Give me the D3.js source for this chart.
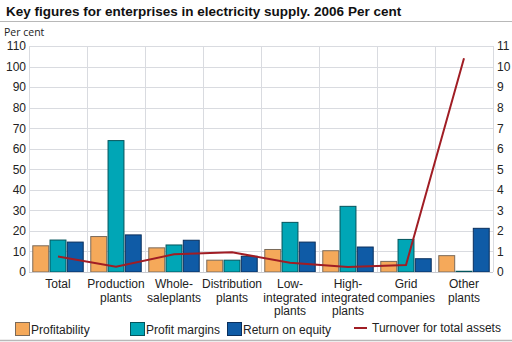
<!DOCTYPE html>
<html>
<head>
<meta charset="utf-8">
<script src="https://cdn.jsdelivr.net/npm/d3@7"></script>
<style>
  html, body { margin: 0; padding: 0; background: #fff; }
  svg { display: block; font-family: "Liberation Sans", Arial, sans-serif; }
</style>
</head>
<body>
<svg id="chart" width="512" height="342"></svg>
<script>
// Category labels (each inner array is one line of text)
const categories = [
  ["Total"],
  ["Production", "plants"],
  ["Whole-", "saleplants"],
  ["Distribution", "plants"],
  ["Low-", "integrated", "plants"],
  ["High-", "integrated", "plants"],
  ["Grid", "companies"],
  ["Other", "plants"]
];

// Bar series, per cent (left axis)
const profitability  = [13, 17.5, 12, 6, 11.2, 10.6, 5.4, 8.2];
const profitMargins  = [15.8, 64.2, 13.4, 6, 24.4, 32.2, 16.1, 0.6];
const returnOnEquity = [14.8, 18.3, 15.7, 7.9, 14.8, 12.4, 6.7, 21.5];

// Line series, per cent (right axis)
const turnover = [0.75, 0.26, 0.86, 0.96, 0.45, 0.24, 0.34, 10.4];

// Tick values
const leftTicks  = [0, 10, 20, 30, 40, 50, 60, 70, 80, 90, 100, 110];
const rightTicks = [0, 1, 2, 3, 4, 5, 6, 7, 8, 9, 10, 11];

const seriesNames = ["Profitability", "Profit margins", "Return on equity"];
const seriesData = [profitability, profitMargins, returnOnEquity];
const fills   = ["#f5a95a", "#00a6b6", "#0f5ba6"];
const strokes = ["#7a6a5a", "#03545c", "#0a2f5c"];
const lineColor = "#a01d24";

const svg = d3.select("#chart");
const margin = { left: 29, right: 19, top: 46, bottom: 70 };
const W = 512, H = 342;
const x0 = margin.left, x1 = W - margin.right;
const yTop = 46, yBot = 272;

const x = d3.scaleBand().domain(d3.range(categories.length)).range([x0, x1]).paddingInner(0).paddingOuter(0);
const xs = d3.scaleBand().domain(d3.range(3)).range([0, x.bandwidth()]).paddingOuter(0.19).paddingInner(0.02);
const yL = d3.scaleLinear().domain([0, 110]).range([yBot, yTop]);
const yR = d3.scaleLinear().domain([0, 11]).range([yBot, yTop]);

// Title and rule
svg.append("text").attr("x", 6).attr("y", 16)
  .attr("font-size", 13.5).attr("font-weight", "bold").attr("fill", "#111")
  .text("Key figures for enterprises in electricity supply. 2006 Per cent");
svg.append("line").attr("x1", 0).attr("x2", W).attr("y1", 21.5).attr("y2", 21.5)
  .attr("stroke", "#b8b8b8").attr("stroke-width", 1);

svg.append("text").attr("x", 4).attr("y", 36)
  .attr("font-family", "'Open Sans', sans-serif").attr("font-size", 10.5).attr("fill", "#222")
  .text("Per cent");

// Horizontal grid
svg.append("g").selectAll("line").data(leftTicks).join("line")
  .attr("x1", x0).attr("x2", x1)
  .attr("y1", d => Math.round(yL(d)) + 0.5).attr("y2", d => Math.round(yL(d)) + 0.5)
  .attr("stroke", "#d9dbe0").attr("stroke-width", 1);

// Vertical category separators
svg.append("g").selectAll("line").data(d3.range(categories.length + 1)).join("line")
  .attr("x1", i => Math.round(x0 + i * x.bandwidth()) + 0.5)
  .attr("x2", i => Math.round(x0 + i * x.bandwidth()) + 0.5)
  .attr("y1", yTop).attr("y2", yBot)
  .attr("stroke", "#d9dbe0").attr("stroke-width", 1);

// Left axis
const gL = svg.append("g").attr("transform", `translate(${x0 - 3},0)`)
  .call(d3.axisLeft(yL).tickValues(leftTicks).tickSize(0).tickPadding(0));
gL.select(".domain").remove();
gL.selectAll("text").attr("font-size", 12).attr("fill", "#222").attr("font-family", "'Liberation Sans', Arial, sans-serif");

// Right axis
const gR = svg.append("g").attr("transform", `translate(${x1 + 4},0)`)
  .call(d3.axisRight(yR).tickValues(rightTicks).tickSize(0).tickPadding(0));
gR.select(".domain").remove();
gR.selectAll("text").attr("font-size", 12).attr("fill", "#222").attr("font-family", "'Liberation Sans', Arial, sans-serif");

// Bars
seriesData.forEach((vals, s) => {
  svg.append("g").selectAll("rect").data(vals).join("rect")
    .attr("x", (d, i) => x(i) + xs(s) + 0.5)
    .attr("y", d => yL(d) + 0.5)
    .attr("width", xs.bandwidth() - 1)
    .attr("height", d => Math.max(0, yBot - yL(d) - 0.5))
    .attr("fill", fills[s])
    .attr("stroke", strokes[s]).attr("stroke-width", 1);
});

// Bottom axis line
svg.append("line").attr("x1", x0).attr("x2", x1).attr("y1", yBot + 0.5).attr("y2", yBot + 0.5)
  .attr("stroke", "#c8cad0");

// Turnover line
svg.append("path").datum(turnover)
  .attr("fill", "none").attr("stroke", lineColor).attr("stroke-width", 2)
  .attr("d", d3.line().x((d, i) => x(i) + x.bandwidth() / 2).y(d => yR(d)));

// Category labels
const cat = svg.append("g");
categories.forEach((lines, i) => {
  const t = cat.append("text").attr("text-anchor", "middle")
    .attr("font-size", 12).attr("fill", "#222");
  lines.forEach((ln, k) => {
    t.append("tspan").attr("x", x(i) + x.bandwidth() / 2).attr("y", 288 + k * 13.5).text(ln);
  });
});

// Legend
const legendX = [15, 130, 227];
seriesNames.forEach((n, s) => {
  svg.append("rect").attr("x", legendX[s] + 0.5).attr("y", 322.5).attr("width", 14).attr("height", 13)
    .attr("fill", fills[s]).attr("stroke", strokes[s]);
  svg.append("text").attr("x", legendX[s] + 16).attr("y", 333.5)
    .attr("font-size", 12).attr("fill", "#222").text(n);
});
svg.append("line").attr("x1", 354).attr("x2", 367).attr("y1", 328).attr("y2", 328)
  .attr("stroke", lineColor).attr("stroke-width", 2);
svg.append("text").attr("x", 372).attr("y", 331.5)
  .attr("font-size", 12).attr("fill", "#222").text("Turnover for total assets");

svg.append("line").attr("x1", 0).attr("x2", W).attr("y1", 340.5).attr("y2", 340.5)
  .attr("stroke", "#b8b8b8").attr("stroke-width", 1.5);
</script>
</body>
</html>
